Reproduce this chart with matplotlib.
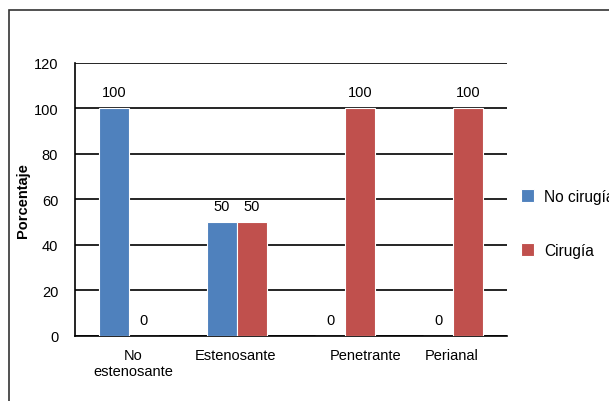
import numpy as np
import matplotlib.pyplot as plt
from matplotlib.patches import Rectangle
import matplotlib.transforms as mtransforms

plt.rcParams['font.family'] = ['Liberation Sans', 'DejaVu Sans']

# Datos: porcentaje de pacientes por patrón de la enfermedad
categorias = ['No\nestenosante', 'Estenosante', 'Penetrante', 'Perianal']
no_cirugia = [100, 50, 0, 0]
cirugia = [0, 50, 100, 100]
series = ['No cirugía', 'Cirugía']

azul = '#4f81bd'
rojo = '#c0504d'

fig = plt.figure(figsize=(6.09, 4.02), dpi=100)
ax = fig.add_axes([0.123, 0.162, 0.710, 0.679])

x = np.arange(len(categorias))
ancho = 0.278
b1 = ax.bar(x - ancho / 2, no_cirugia, ancho, color=azul, edgecolor='white',
            linewidth=0.8, label=series[0], zorder=3)
b2 = ax.bar(x + ancho / 2, cirugia, ancho, color=rojo, edgecolor='white',
            linewidth=0.8, label=series[1], zorder=3)

# Etiquetas de valor sobre cada barra
for barras in (b1, b2):
    for b in barras:
        h = b.get_height()
        ax.annotate(f'{h:g}', (b.get_x() + b.get_width() / 2, h),
                    xytext=(0, 6.5), textcoords='offset points',
                    ha='center', va='bottom', fontsize=10.5)

ax.set_xlim(-0.5, len(categorias) - 0.5)
ax.set_ylim(0, 120)
ax.set_yticks(np.arange(0, 121, 20))
ax.tick_params(axis='y', length=0, pad=12, labelsize=10.5)
ax.tick_params(axis='x', length=0, pad=9, labelsize=10.5)
ax.set_xticks(x)
ax.set_xticklabels(categorias, linespacing=1.15)

# pequeño desplazamiento de algunas etiquetas del eje x
desplaz = [4, -2, 20, -2]
for lab, dx in zip(ax.get_xticklabels(), desplaz):
    lab.set_transform(lab.get_transform() +
                      mtransforms.ScaledTranslation(dx / 100, 0, fig.dpi_scale_trans))

ax.yaxis.grid(True, color='black', linewidth=1.2, zorder=0)
ax.set_axisbelow(True)
for s in ('top', 'right'):
    ax.spines[s].set_visible(False)
ax.spines['left'].set_linewidth(1.2)
ax.spines['bottom'].set_linewidth(1.2)

ax.set_ylabel('Porcentaje', fontsize=10.5, fontweight='bold')
ax.yaxis.set_label_coords(-0.104, 0.5)

leg = fig.legend(handles=[b1, b2], loc='upper left', bbox_to_anchor=(0.845, 0.543),
                 frameon=False, fontsize=11.2, handlelength=0.85, handleheight=0.85,
                 labelspacing=2.5, handletextpad=0.65, borderaxespad=0)

# marco exterior del gráfico
marco = Rectangle((9 / 609, -0.1), 1.2, 1 - 11 / 402 + 0.1, transform=fig.transFigure,
                  fill=False, edgecolor='#333333', linewidth=1.2, clip_on=False)
fig.patches.append(marco)

fig.savefig('out.png', dpi=100)
